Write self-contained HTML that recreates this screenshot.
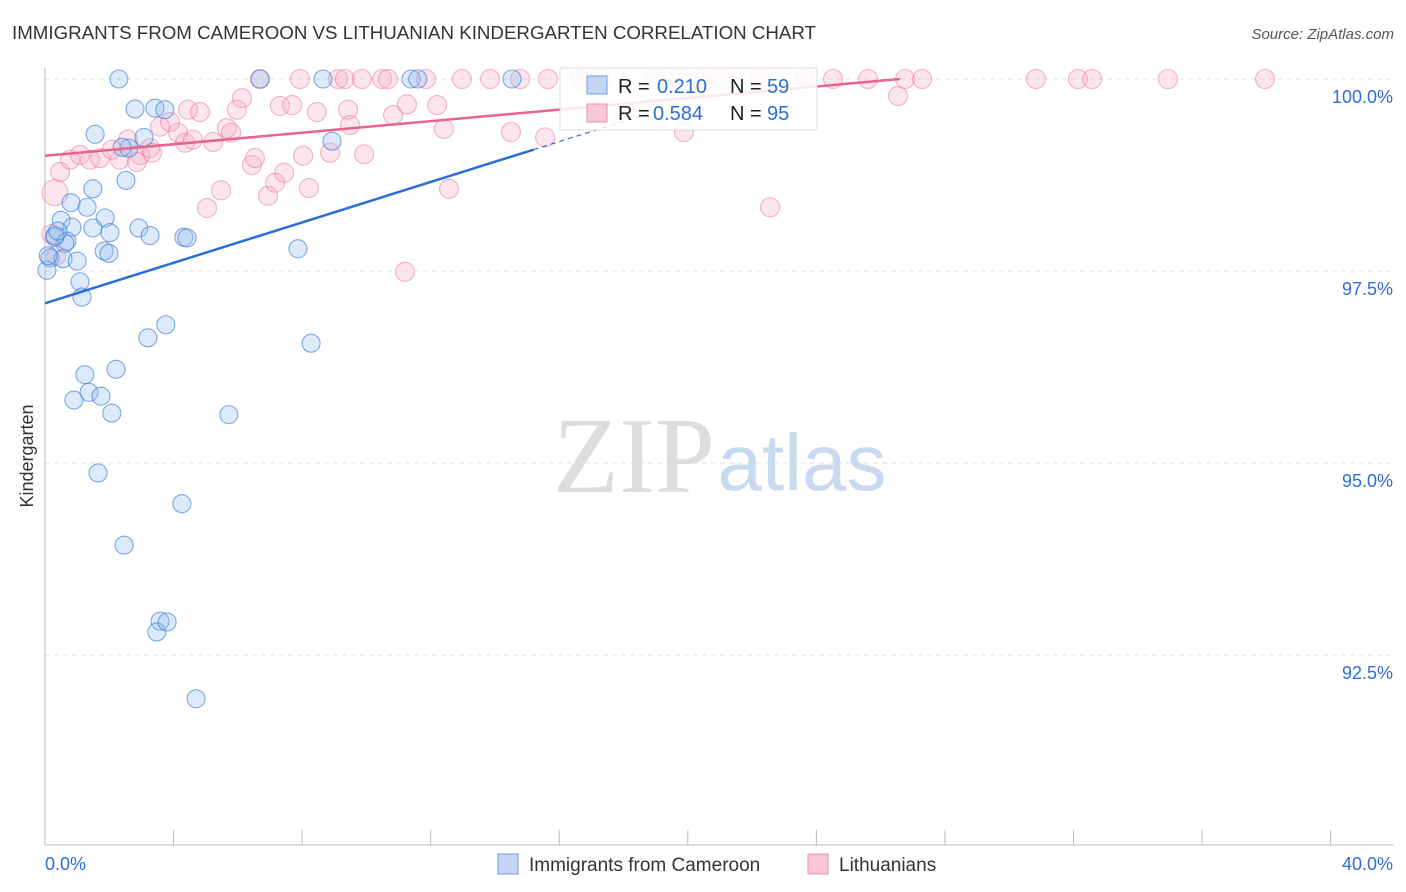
<!DOCTYPE html>
<html><head><meta charset="utf-8"><style>
body{margin:0;background:#fff;font-family:"Liberation Sans",sans-serif;}
svg{display:block}
</style></head><body>
<svg id="c" width="1406" height="892">
<text x="12" y="39" font-size="18" fill="#333" textLength="804" lengthAdjust="spacingAndGlyphs">IMMIGRANTS FROM CAMEROON VS LITHUANIAN KINDERGARTEN CORRELATION CHART</text>
<text x="1394" y="39" font-size="15" fill="#555" font-style="italic" text-anchor="end">Source: ZipAtlas.com</text>
<text x="33" y="456" font-size="18" fill="#333" transform="rotate(-90 33 456)" text-anchor="middle">Kindergarten</text>
<g id="grid"></g>
<g id="wm">
<text x="634" y="492" font-size="108" fill="#ddd" font-family="Liberation Serif,serif" text-anchor="middle">ZIP</text>
<text x="802" y="490" font-size="80" fill="#c9d9ef" text-anchor="middle">atlas</text></g>
<g id="axes"></g>
<g id="pts"></g>
<g id="lines"></g>
<g>
<rect x="560" y="68" width="257" height="62" fill="rgba(255,255,255,0.85)" stroke="#ddd"/>
<rect x="587" y="76" width="20" height="18" fill="#c3d6f3" stroke="#6d9ee0"/>
<g font-size="20">
<text x="618" y="93" fill="#222">R =</text><text x="657" y="93" fill="#2b6fd6">0.210</text>
<text x="730" y="93" fill="#222">N =</text><text x="767" y="93" fill="#2b6fd6">59</text></g>
<rect x="587" y="104" width="20" height="18" fill="#f8c7d6" stroke="#ec8fae"/>
<g font-size="20">
<text x="618" y="120" fill="#222">R =</text><text x="653" y="120" fill="#2b6fd6">0.584</text>
<text x="730" y="120" fill="#222">N =</text><text x="767" y="120" fill="#2b6fd6">95</text></g>
</g>
<g>
<rect x="498" y="854" width="20" height="20" fill="#c3d6f3" stroke="#6d9ee0"/>
<text x="529" y="871" font-size="19" fill="#333">Immigrants from Cameroon</text>
<rect x="808" y="854" width="20" height="20" fill="#f8c7d6" stroke="#ec8fae"/>
<text x="839" y="871" font-size="19" fill="#333">Lithuanians</text>
</g>
</svg>
<script>
const yTicks=[100,97.5,95,92.5];
const yTickLabels=["100.0%","97.5%","95.0%","92.5%"];
const xEndLabels=["0.0%","40.0%"];
const blueX=[2.30,6.69,8.65,11.39,11.60,14.53,2.80,3.42,3.73,1.56,3.08,2.61,2.40,8.93,2.52,1.49,0.81,1.31,0.50,1.87,0.84,1.49,2.92,2.02,0.31,3.27,4.32,4.42,0.68,0.62,1.84,1.99,7.87,0.16,0.56,1.00,0.06,1.09,1.15,3.76,3.20,8.28,2.21,1.24,0.90,1.37,1.74,2.08,5.72,1.65,4.26,2.46,3.58,3.48,3.80,4.70,0.31,0.10,0.40];
const blueY=[100,100,100,100,100,100,99.61,99.62,99.60,99.28,99.24,99.10,99.11,99.19,98.68,98.57,98.39,98.33,98.16,98.19,98.07,98.06,98.06,98.0,97.94,97.96,97.94,97.93,97.89,97.86,97.76,97.73,97.79,97.67,97.66,97.63,97.51,97.36,97.16,96.80,96.63,96.56,96.22,96.15,95.82,95.92,95.87,95.65,95.63,94.87,94.47,93.93,92.94,92.80,92.93,91.93,97.96,97.70,98.02];
const pinkX=[6.69,7.93,9.12,9.33,9.86,10.49,10.67,11.85,12.97,13.85,14.78,15.65,16.65,17.27,18.98,19.76,20.38,21.0,22.25,23.65,24.52,25.61,26.76,27.29,30.83,32.14,32.58,34.94,37.96,
0.31,0.47,0.78,1.09,1.40,1.71,2.08,2.33,2.58,2.96,2.86,3.27,3.33,3.58,3.89,4.14,4.36,4.60,4.45,4.82,5.23,5.04,5.48,5.66,5.79,5.97,6.13,6.44,6.53,6.94,7.16,7.44,7.31,7.69,8.03,8.21,8.46,8.87,9.43,9.49,9.93,10.83,11.26,11.20,12.20,12.41,12.57,14.50,15.56,19.88,22.56,26.54,0.2,0.35];
const pinkY=[100,100,100,100,100,100,100,100,100,100,100,100,100,100,100,100,100,100,100,100,100,100,100,100,100,100,100,100,100,
98.52,98.79,98.95,99.01,98.95,98.97,99.08,98.95,99.21,99.01,98.92,99.10,99.04,99.38,99.44,99.30,99.17,99.21,99.60,99.57,99.18,98.32,98.55,99.36,99.30,99.60,99.75,98.88,98.97,98.48,98.65,98.78,99.65,99.66,99.0,98.58,99.57,99.04,99.60,99.40,99.02,99.53,99.67,97.49,99.66,99.35,98.57,99.31,99.24,99.31,98.33,99.78,97.98,97.70];
const blueTrend=[0,97.08,15.2,99.08,19.0,99.58];
const pinkTrend=[0,99.0,26.6,100];
const X=v=>45+v*32.14, Y=v=>79+(100-v)*76.8;
const NS="http://www.w3.org/2000/svg";
function mk(tag,attrs,parent){const e=document.createElementNS(NS,tag);for(const k in attrs)e.setAttribute(k,attrs[k]);parent.appendChild(e);return e;}
const grid=document.getElementById('grid'),axes=document.getElementById('axes'),pts=document.getElementById('pts'),lines=document.getElementById('lines');
yTicks.forEach((t,i)=>{
 const l=mk('line',{x1:45,x2:1394,y1:Y(t),y2:Y(t),stroke:'#e2e2e2','stroke-dasharray':'5,4'},grid);
 
 
 const tx=mk('text',{x:1393,y:Y(t)+24,'font-size':18,fill:'#2b6fd6','text-anchor':'end'},axes);
 tx.textContent=yTickLabels[i];
 
 
});
mk('line',{x1:45,x2:45,y1:68,y2:845,stroke:'#bbb'},axes);
mk('line',{x1:45,x2:1394,y1:845,y2:845,stroke:'#bbb'},axes);
for(let i=0;i<=10;i++){const t=mk('line',{x1:X(i*4),x2:X(i*4),y1:830,y2:845,stroke:'#bbb'},axes);
 
 }
const xl0=mk('text',{x:45,y:870,'font-size':18,fill:'#2b6fd6'},axes);xl0.textContent=xEndLabels[0];


const xl1=mk('text',{x:1393,y:870,'font-size':18,fill:'#2b6fd6','text-anchor':'end'},axes);xl1.textContent=xEndLabels[1];


pinkX.forEach((v,i)=>{const c=mk('circle',{cx:X(v),cy:Y(pinkY[i]),r:i==29?13:9.5,fill:'rgba(246,170,195,0.3)',stroke:'rgba(232,120,158,0.55)','stroke-width':1.1},pts);
 
 });
blueX.forEach((v,i)=>{const c=mk('circle',{cx:X(v),cy:Y(blueY[i]),r:9,fill:'rgba(150,190,240,0.32)',stroke:'rgba(60,125,215,0.65)','stroke-width':1.1},pts);
 
 });
const bl=mk('line',{x1:X(blueTrend[0]),y1:Y(blueTrend[1]),x2:X(blueTrend[2]),y2:Y(blueTrend[3]),stroke:'#2b6fd6','stroke-width':2.5},lines);


const bd=mk('line',{x1:X(blueTrend[2]),y1:Y(blueTrend[3]),x2:X(blueTrend[4]),y2:Y(blueTrend[5]),stroke:'#2b6fd6','stroke-width':1.2,'stroke-dasharray':'5,4'},lines);


const pl=mk('line',{x1:X(pinkTrend[0]),y1:Y(pinkTrend[1]),x2:X(pinkTrend[2]),y2:Y(pinkTrend[3]),stroke:'#e8638e','stroke-width':2.5},lines);


</script>
</body></html>
